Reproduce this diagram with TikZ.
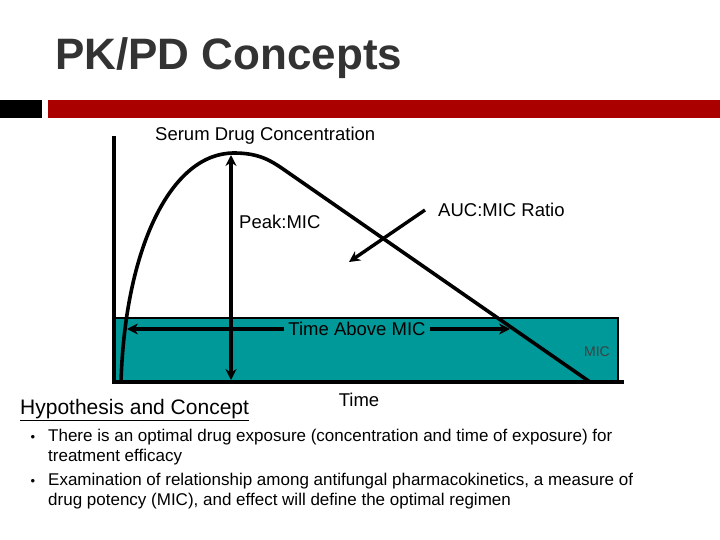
\documentclass[tikz,border=0pt]{standalone}
\usepackage{fontspec}
\setmainfont{Liberation Sans}
\usetikzlibrary{arrows.meta}
\definecolor{teal1}{HTML}{009999}
\definecolor{darkred}{HTML}{AA0000}
\definecolor{titlegray}{HTML}{333333}
\tikzset{
  thick line/.style={line width=3.6pt},
  arr/.style={line width=3.4pt,-{Stealth[length=11pt,width=11pt]}},
  darr/.style={line width=3.4pt,{Stealth[length=11pt,width=11pt]}-{Stealth[length=11pt,width=11pt]}},
  lbl/.style={inner sep=0pt,font=\fontsize{18.5}{22}\selectfont},
  body/.style={inner sep=0pt,font=\fontsize{17}{20}\selectfont,align=left}
}
\begin{document}
\begin{tikzpicture}[x=1pt,y=-1pt]
\useasboundingbox (0,0) rectangle (720,540);
% title
\node[inner sep=0pt,anchor=west,text=titlegray,font=\fontsize{44}{48}\selectfont\bfseries] (title) at (55,58) {PK/PD Concepts};
% bars
\fill[black] (0,100) rectangle (42,118);
\fill[darkred] (48,100) rectangle (720,118);
% MIC band
\filldraw[fill=teal1,draw=black,line width=1.2pt] (115,318) rectangle (618,381);
% axes
\coordinate (ytop) at (114,136);
\coordinate (orig) at (114,382);
\coordinate (xend) at (624,382);
\draw[thick line] (ytop) -- (orig) -- (xend);
% curve
\coordinate (c0) at (121,382);
\coordinate (pk) at (234,153);
\coordinate (c1) at (283,169);
\coordinate (c2) at (590,382);
\draw[thick line] (c0) .. controls (125,250) and (170,153) .. (pk) .. controls (258,153) and (270,160) .. (c1) -- (c2);
% peak arrow
\coordinate (pa) at (231,155);
\coordinate (pb) at (231,380);
\draw[darr] (pa) -- (pb);
% time above mic
\node[lbl] (tam) at (357,329) {Time Above MIC};
\coordinate (tl) at (127,329);
\coordinate (tr) at (510,329);
\draw[arr] (tam.west) ++(-4,0) -- (tl);
\draw[arr] (tam.east) ++(4,0) -- (tr);
% AUC arrow
\coordinate (aa) at (425,210);
\coordinate (ab) at (349,262);
\draw[arr] (aa) -- (ab);
% labels
\node[lbl,anchor=west] (serum) at (155,136) {Serum Drug Concentration};
\node[lbl,anchor=west] (peak) at (239,222) {Peak:MIC};
\node[lbl,anchor=west] (auc) at (438,210) {AUC:MIC Ratio};
\node[inner sep=0pt,anchor=east,text=black!75,font=\fontsize{14}{16}\selectfont] (mic) at (610,352) {MIC};
\node[lbl] (time) at (359,400) {Time};
% text
\node[inner sep=0pt,anchor=west,font=\fontsize{21}{24}\selectfont] (hyp) at (20,410) {\underline{Hypothesis and Concept}};
\node[body,anchor=north west] (b1) at (48,429) {There is an optimal drug exposure (concentration and time of exposure) for\\treatment efficacy};
\node[body,anchor=north west] (b2) at (48,473) {Examination of relationship among antifungal pharmacokinetics, a measure of\\drug potency (MIC), and effect will define the optimal regimen};
\node[inner sep=0pt,font=\fontsize{13}{15}\selectfont] (d1) at (33,438) {•};
\node[inner sep=0pt,font=\fontsize{13}{15}\selectfont] (d2) at (33,482) {•};
\end{tikzpicture}
\end{document}
